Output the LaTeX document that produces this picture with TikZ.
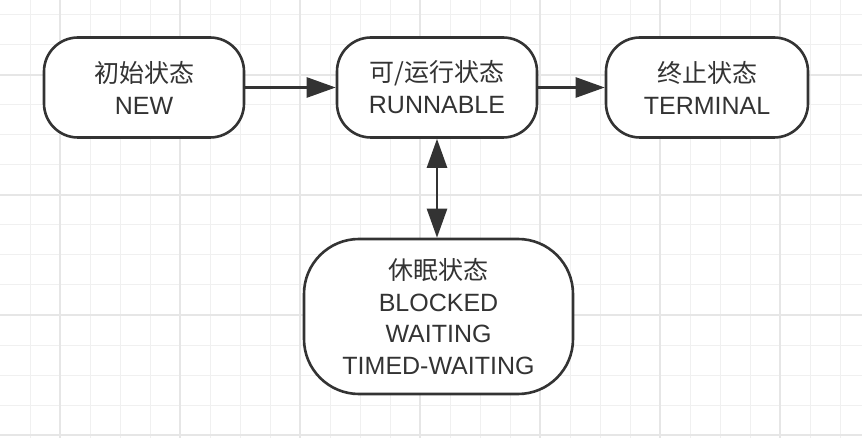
\documentclass[tikz,border=0pt]{standalone}
\usepackage{fontspec}
\setmainfont{Liberation Sans}
\newfontfamily\cjk{Noto Sans CJK SC}
\usetikzlibrary{arrows.meta}
\definecolor{ink}{HTML}{333333}
\definecolor{gridminor}{HTML}{F0F0F0}
\definecolor{gridmajor}{HTML}{E6E6E6}
\tikzset{
  state/.style={draw=ink, line width=2.6pt, fill=white, text=ink, align=center,
    rounded corners=34pt, minimum width=200pt, minimum height=100pt, inner sep=0pt,
    font=\fontsize{25}{32}\selectfont},
  bigstate/.style={state, rounded corners=55pt, minimum width=269pt, minimum height=155pt,
    font=\fontsize{25}{31.5}\selectfont},
  conn/.style={draw=ink, line width=2.6pt, -{Triangle[length=29pt,width=20pt]}},
  biconn/.style={draw=ink, line width=2.6pt, {Triangle[length=29pt,width=20pt]}-{Triangle[length=29pt,width=20pt]}}
}
\begin{document}
\begin{tikzpicture}[x=1pt,y=-1pt]
\useasboundingbox (0,0) rectangle (862,438);
\fill[white] (0,0) rectangle (862,438);
% grid
\foreach \k in {1,...,28} {
  \draw[gridminor, line width=1pt] (30*\k,0) -- (30*\k,438);
}
\foreach \k in {0,...,14} {
  \draw[gridminor, line width=1pt] (0,15+30*\k) -- (862,15+30*\k);
}
\foreach \k in {0,...,6} {
  \draw[gridmajor, line width=1.5pt] (60+120*\k,0) -- (60+120*\k,438);
}
\foreach \k in {0,...,3} {
  \draw[gridmajor, line width=1.5pt] (0,75+120*\k) -- (862,75+120*\k);
}
% nodes
\node[state] (new) at (144,87.5) {{\cjk 初始状态}\\NEW};
\node[state] (run) at (437,87.5) {{\cjk 可/运行状态}\\RUNNABLE};
\node[state, minimum width=202pt] (term) at (707,87.5) {{\cjk 终止状态}\\TERMINAL};
\node[bigstate] (sleep) at (438.5,316.5) {{\cjk 休眠状态}\\BLOCKED\\WAITING\\TIMED-WAITING};
% connectors
\draw[conn] (new.east) -- (run.west);
\draw[conn] (run.east) -- (term.west);
\draw[biconn] (run.south -| 437,0) -- (sleep.north -| 437,0);
\end{tikzpicture}
\end{document}
